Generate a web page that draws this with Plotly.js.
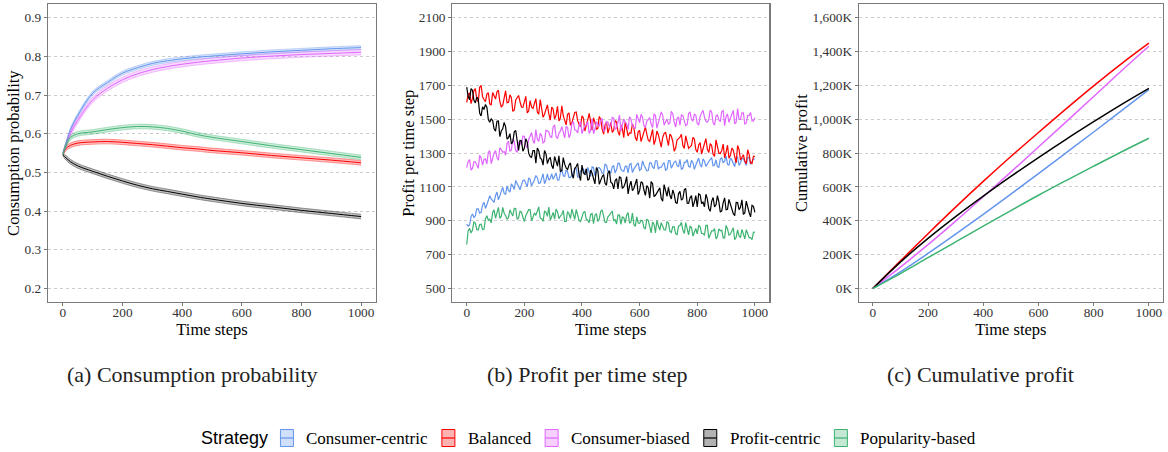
<!DOCTYPE html>
<html><head><meta charset="utf-8">
<script src="https://cdn.plot.ly/plotly-3.0.1.min.js"></script>
<style>html,body{margin:0;padding:0;background:#fff;} #chart{width:1168px;height:452px;}</style>
</head><body><div id="chart"></div>
<script>
// ---------------- DATA ----------------
const strategies = ["Consumer-centric", "Balanced", "Consumer-biased", "Profit-centric", "Popularity-based"];
const colors = ["#6495ED", "#FF0000", "#E066FF", "#000000", "#3CB371"];

// (a) Consumption probability (mean with confidence band)
const timeA = [0,10,25,50,100,150,200,250,300,350,400,450,500,600,700,800,900,1000];
const probConsumerCentric = [0.550,0.575,0.610,0.648,0.705,0.733,0.757,0.771,0.782,0.789,0.794,0.798,0.801,0.807,0.812,0.816,0.820,0.823];
const probConsumerCentricLo = [0.547,0.571,0.605,0.643,0.700,0.728,0.752,0.766,0.777,0.784,0.789,0.793,0.796,0.802,0.807,0.811,0.815,0.818];
const probConsumerCentricHi = [0.553,0.579,0.615,0.653,0.710,0.738,0.762,0.776,0.787,0.794,0.799,0.803,0.806,0.812,0.817,0.821,0.825,0.828];
const probBalanced = [0.546,0.562,0.570,0.576,0.579,0.580,0.578,0.575,0.572,0.568,0.564,0.561,0.557,0.551,0.544,0.538,0.532,0.525];
const probBalancedLo = [0.543,0.556,0.564,0.570,0.573,0.574,0.572,0.569,0.566,0.562,0.558,0.555,0.551,0.545,0.538,0.532,0.526,0.519];
const probBalancedHi = [0.549,0.568,0.576,0.582,0.585,0.586,0.584,0.581,0.578,0.574,0.570,0.567,0.563,0.557,0.550,0.544,0.538,0.531];
const probConsumerBiased = [0.550,0.570,0.600,0.635,0.688,0.718,0.740,0.755,0.766,0.774,0.780,0.785,0.789,0.796,0.801,0.805,0.808,0.811];
const probConsumerBiasedLo = [0.547,0.564,0.593,0.628,0.681,0.711,0.733,0.748,0.759,0.767,0.773,0.778,0.782,0.789,0.794,0.798,0.801,0.804];
const probConsumerBiasedHi = [0.553,0.576,0.607,0.642,0.695,0.725,0.747,0.762,0.773,0.781,0.787,0.792,0.796,0.803,0.808,0.812,0.815,0.818];
const probProfitCentric = [0.545,0.538,0.528,0.517,0.503,0.490,0.478,0.467,0.458,0.451,0.444,0.437,0.431,0.420,0.411,0.402,0.394,0.386];
const probProfitCentricLo = [0.542,0.532,0.522,0.511,0.497,0.484,0.472,0.461,0.452,0.445,0.438,0.431,0.425,0.414,0.405,0.396,0.388,0.380];
const probProfitCentricHi = [0.548,0.544,0.534,0.523,0.509,0.496,0.484,0.473,0.464,0.457,0.450,0.443,0.437,0.426,0.417,0.408,0.400,0.392];
const probPopularity = [0.546,0.570,0.590,0.600,0.605,0.611,0.616,0.619,0.618,0.614,0.607,0.598,0.591,0.580,0.569,0.559,0.549,0.539];
const probPopularityLo = [0.543,0.564,0.584,0.594,0.599,0.605,0.610,0.613,0.612,0.608,0.601,0.592,0.585,0.574,0.563,0.553,0.543,0.533];
const probPopularityHi = [0.549,0.576,0.596,0.606,0.611,0.617,0.622,0.625,0.624,0.620,0.613,0.604,0.597,0.586,0.575,0.565,0.555,0.545];

// (b) Profit per time step: readings at t = 0,10,...,1000 and at t = 5,15,...,995
const timeB = [0,10,20,30,40,50,60,70,80,90,100,110,120,130,140,150,160,170,180,190,200,210,220,230,240,250,260,270,280,290,300,310,320,330,340,350,360,370,380,390,400,410,420,430,440,450,460,470,480,490,500,510,520,530,540,550,560,570,580,590,600,610,620,630,640,650,660,670,680,690,700,710,720,730,740,750,760,770,780,790,800,810,820,830,840,850,860,870,880,890,900,910,920,930,940,950,960,970,980,990,1000];
const timeBMid = [5,15,25,35,45,55,65,75,85,95,105,115,125,135,145,155,165,175,185,195,205,215,225,235,245,255,265,275,285,295,305,315,325,335,345,355,365,375,385,395,405,415,425,435,445,455,465,475,485,495,505,515,525,535,545,555,565,575,585,595,605,615,625,635,645,655,665,675,685,695,705,715,725,735,745,755,765,775,785,795,805,815,825,835,845,855,865,875,885,895,905,915,925,935,945,955,965,975,985,995];

const profitConsumerCentric = [880,875,940,930,970,950,1010,995,1048,1017,1050,1024,1083,1062,1106,1070,1106,1138,1094,1111,1142,1101,1145,1124,1168,1122,1151,1119,1178,1151,1145,1183,1141,1204,1162,1190,1157,1185,1212,1160,1197,1174,1216,1163,1215,1192,1214,1180,1237,1193,1180,1226,1203,1239,1196,1222,1183,1239,1206,1232,1198,1254,1215,1197,1243,1209,1255,1216,1233,1199,1255,1211,1247,1228,1264,1210,1246,1222,1258,1204,1255,1231,1267,1222,1248,1274,1230,1221,1266,1242,1283,1229,1260,1220,1276,1242,1268,1228,1274,1249,1265];
const profitConsumerCentricMid = [868,925,920,970,945,993,973,1027,1030,1009,1070,1049,1098,1057,1081,1118,1085,1116,1083,1139,1114,1153,1107,1141,1155,1124,1178,1141,1140,1178,1167,1140,1183,1166,1199,1156,1169,1211,1159,1196,1208,1175,1187,1219,1166,1213,1205,1181,1228,1194,1221,1182,1239,1205,1192,1223,1234,1185,1222,1243,1204,1230,1196,1243,1219,1255,1206,1217,1244,1205,1256,1227,1253,1219,1205,1246,1262,1218,1244,1230,1271,1217,1252,1238,1264,1225,1261,1216,1272,1253,1234,1270,1240,1276,1227,1268,1248,1274,1234,1265];

const profitBalanced = [1600,1657,1624,1681,1603,1700,1617,1649,1591,1658,1620,1672,1574,1636,1598,1645,1547,1614,1641,1573,1600,1538,1611,1564,1622,1530,1570,1530,1585,1495,1560,1525,1490,1580,1500,1530,1466,1512,1543,1469,1520,1431,1497,1468,1509,1440,1517,1444,1466,1418,1480,1435,1485,1405,1445,1485,1402,1419,1451,1373,1435,1402,1454,1376,1418,1350,1431,1372,1393,1424,1345,1401,1312,1378,1394,1345,1402,1329,1346,1383,1305,1362,1329,1386,1303,1345,1281,1347,1298,1354,1305,1270,1330,1280,1345,1260,1291,1237,1293,1239,1280];
const profitBalancedMid = [1646,1593,1670,1617,1689,1633,1605,1657,1584,1636,1663,1605,1582,1669,1601,1628,1555,1632,1604,1571,1636,1549,1572,1595,1543,1617,1512,1562,1532,1572,1502,1577,1507,1522,1467,1538,1479,1540,1491,1457,1508,1474,1535,1436,1482,1448,1500,1412,1484,1456,1422,1492,1427,1467,1392,1443,1420,1472,1394,1426,1368,1435,1412,1369,1441,1378,1409,1335,1416,1372,1413,1369,1330,1386,1412,1328,1365,1337,1394,1321,1348,1295,1367,1324,1356,1293,1379,1300,1316,1272,1347,1287,1317,1242,1322,1278,1254,1320,1241,1282];

const profitConsumerBiased = [1215,1262,1211,1250,1210,1270,1263,1236,1314,1272,1315,1258,1321,1309,1357,1310,1383,1316,1364,1347,1400,1330,1400,1375,1440,1370,1404,1368,1432,1396,1455,1399,1418,1457,1391,1450,1413,1486,1434,1467,1415,1462,1485,1437,1415,1487,1459,1505,1437,1483,1460,1507,1448,1525,1461,1483,1439,1501,1452,1529,1480,1511,1453,1499,1471,1532,1448,1509,1525,1486,1472,1548,1484,1505,1466,1522,1463,1534,1499,1530,1476,1517,1553,1488,1499,1545,1465,1526,1486,1552,1517,1482,1533,1473,1564,1499,1538,1477,1522,1491,1510];
const profitConsumerBiasedMid = [1251,1199,1248,1227,1287,1229,1267,1305,1238,1301,1274,1332,1305,1288,1371,1319,1367,1305,1368,1401,1347,1382,1422,1357,1382,1417,1361,1435,1424,1393,1467,1386,1430,1414,1458,1391,1474,1437,1420,1488,1441,1468,1416,1503,1441,1468,1494,1431,1487,1454,1511,1442,1484,1430,1502,1473,1515,1461,1448,1499,1530,1462,1488,1510,1451,1522,1483,1544,1465,1501,1477,1533,1454,1515,1526,1492,1468,1544,1489,1525,1466,1537,1513,1483,1554,1480,1520,1496,1546,1462,1532,1507,1553,1483,1499,1538,1472,1522,1541,1490];

const profitProfitCentric = [1690,1615,1672,1597,1620,1520,1558,1572,1483,1493,1430,1490,1431,1482,1383,1415,1367,1434,1316,1373,1330,1365,1280,1315,1240,1315,1263,1315,1238,1275,1208,1246,1284,1197,1235,1203,1242,1152,1221,1171,1230,1175,1140,1200,1150,1215,1116,1161,1122,1182,1128,1089,1150,1161,1092,1123,1059,1135,1091,1147,1078,1124,1050,1096,1132,1043,1069,1095,1016,1077,1098,1029,1056,1002,1074,1030,1091,1003,1049,1011,982,1054,1010,1057,973,1015,982,1049,951,1008,965,1027,974,931,1008,980,938,1016,949,992,950];
const profitProfitCentricMid = [1635,1681,1612,1631,1535,1574,1588,1498,1503,1444,1488,1398,1444,1455,1392,1354,1426,1363,1375,1312,1385,1300,1275,1315,1330,1272,1229,1297,1264,1227,1280,1223,1191,1274,1212,1230,1175,1209,1239,1138,1183,1208,1148,1183,1118,1198,1144,1174,1110,1195,1121,1137,1088,1154,1100,1161,1107,1078,1119,1055,1131,1082,1108,1034,1120,1051,1082,1033,1114,1045,1051,1082,1009,1060,1022,1083,1004,1036,982,1049,1060,1002,983,1030,956,1038,995,1012,959,1036,968,995,942,1009,966,1024,947,975,923,986];

const profitPopularity = [760,855,845,887,846,880,850,930,910,950,915,980,925,945,910,965,929,973,917,951,895,945,966,921,932,982,912,956,926,905,950,969,913,937,896,955,914,938,967,901,920,954,904,938,883,942,911,965,890,924,943,902,881,934,923,887,948,893,879,924,885,901,852,903,829,880,903,845,868,845,888,831,865,818,872,845,889,817,861,834,823,866,825,873,797,840,854,807,841,799,873,816,840,788,847,800,823,847,800,789,832];
const profitPopularityMid = [840,828,894,849,878,848,913,903,888,965,955,915,980,930,920,945,974,908,957,921,930,966,901,947,962,917,897,951,981,925,910,954,928,962,896,940,969,908,932,896,950,909,889,943,933,897,956,915,890,934,958,907,935,879,918,935,886,946,867,887,903,859,910,866,892,829,872,889,847,894,837,866,824,868,891,825,843,867,810,854,872,826,814,873,826,840,793,852,845,799,852,821,859,803,811,849,793,826,800,833];

// (c) Cumulative profit (thousands)
const timeC = [0,100,200,300,400,500,600,700,800,900,1000];
const cumConsumerCentric = [0,98,207,321,438,558,679,802,925,1050,1175];
const cumBalanced = [0,163,324,481,633,780,922,1062,1198,1328,1450];
const cumConsumerBiased = [0,126,259,398,542,688,836,985,1135,1286,1432];
const cumProfitCentric = [0,156,296,425,546,662,774,882,986,1087,1183];
const cumPopularity = [0,88,182,275,368,460,551,638,723,807,888];

const xTickVals = [0,200,400,600,800,1000];
const yTicksA = [0.2,0.3,0.4,0.5,0.6,0.7,0.8,0.9];
const yTicksB = [500,700,900,1100,1300,1500,1700,1900,2100];
const yTicksC = [0,200,400,600,800,1000,1200,1400,1600];
const yTickTextC = ["0K","200K","400K","600K","800K","1,000K","1,200K","1,400K","1,600K"];
const captions = ["(a) Consumption probability", "(b) Profit per time step", "(c) Cumulative profit"];
const legendTitle = "Strategy";

// ---------------- BUILD ----------------
const W = 1168, H = 452;
const SERIF = "Liberation Serif, Times New Roman, serif";
const SANS = "Liberation Sans, Arial, sans-serif";
function rgba(hex, a) {
  const n = parseInt(hex.slice(1), 16);
  return `rgba(${(n >> 16) & 255},${(n >> 8) & 255},${n & 255},${a})`;
}
// merge the two reading grids of panel (b) in time order
function mergeByTime(tA, vA, tB, vB) {
  const pts = tA.map((t, i) => [t, vA[i]]).concat(tB.map((t, i) => [t, vB[i]]));
  pts.sort((p, q) => p[0] - q[0]);
  return {x: pts.map(p => p[0]), y: pts.map(p => p[1])};
}

const probMean = [probConsumerCentric, probBalanced, probConsumerBiased, probProfitCentric, probPopularity];
const probLo = [probConsumerCentricLo, probBalancedLo, probConsumerBiasedLo, probProfitCentricLo, probPopularityLo];
const probHi = [probConsumerCentricHi, probBalancedHi, probConsumerBiasedHi, probProfitCentricHi, probPopularityHi];
const profit = [profitConsumerCentric, profitBalanced, profitConsumerBiased, profitProfitCentric, profitPopularity];
const profitMid = [profitConsumerCentricMid, profitBalancedMid, profitConsumerBiasedMid, profitProfitCentricMid, profitPopularityMid];
const cum = [cumConsumerCentric, cumBalanced, cumConsumerBiased, cumProfitCentric, cumPopularity];

const traces = [];
strategies.forEach((name, i) => {
  const c = colors[i];
  traces.push({x: timeA, y: probLo[i], xaxis: 'x', yaxis: 'y', mode: 'lines', line: {color: rgba(c, 0.45), width: 0.8, shape: 'spline'}, showlegend: false, hoverinfo: 'skip'});
  traces.push({x: timeA, y: probHi[i], xaxis: 'x', yaxis: 'y', mode: 'lines', fill: 'tonexty', fillcolor: rgba(c, 0.25), line: {color: rgba(c, 0.45), width: 0.8, shape: 'spline'}, showlegend: false, hoverinfo: 'skip'});
  traces.push({x: timeA, y: probMean[i], xaxis: 'x', yaxis: 'y', mode: 'lines', name: name, line: {color: c, width: 1, shape: 'spline'}, showlegend: false});
});
strategies.forEach((name, i) => {
  const m = mergeByTime(timeB, profit[i], timeBMid, profitMid[i]);
  traces.push({x: m.x, y: m.y, xaxis: 'x2', yaxis: 'y2', mode: 'lines', name: name, line: {color: colors[i], width: 1.2}, showlegend: false});
});
strategies.forEach((name, i) => {
  traces.push({x: timeC, y: cum[i], xaxis: 'x3', yaxis: 'y3', mode: 'lines', name: name, line: {color: colors[i], width: 1.5, shape: 'spline'}, showlegend: false});
});

const axBase = {
  showline: true, mirror: true, linecolor: '#7a7a7a', linewidth: 1.2,
  ticks: 'outside', ticklen: 3, tickwidth: 1, tickcolor: '#7a7a7a',
  tickfont: {family: SERIF, size: 13.3, color: '#333'},
  zeroline: false, automargin: false, fixedrange: true
};
const titleFont = {family: SERIF, size: 16.5, color: '#000', weight: 'normal'};
function xAx(dom) {
  return Object.assign({}, axBase, {domain: dom, range: [-50, 1050], showgrid: false, tickmode: 'array', tickvals: xTickVals,
    ticklabelstandoff: -5,
    title: {text: 'Time steps', font: titleFont, standoff: 0}});
}
function yAx(dom, anchor, range, title, extra) {
  return Object.assign({}, axBase, {domain: dom, anchor: anchor, range: range, showgrid: true, gridcolor: '#cccccc', gridwidth: 1, griddash: '3px,3px',
    title: {text: title, font: titleFont, standoff: 0}}, extra);
}
const yDom = [1 - 302 / H, 1 - 4.3 / H];

const layout = {
  width: W, height: H, autosize: false,
  margin: {l: 0, r: 0, t: 0, b: 0},
  paper_bgcolor: '#fff', plot_bgcolor: '#fff',
  showlegend: false,
  xaxis: Object.assign(xAx([48 / W, 376 / W]), {anchor: 'y'}),
  yaxis: yAx(yDom, 'x', [0.165, 0.935], 'Consumption probability', {tickmode: 'array', tickvals: yTicksA, ticktext: yTicksA.map(v => v.toFixed(1))}),
  xaxis2: Object.assign(xAx([452.3 / W, 769.3 / W]), {anchor: 'y2'}),
  yaxis2: yAx(yDom, 'x2', [420, 2180], 'Profit per time step', {tickmode: 'array', tickvals: yTicksB, ticktext: yTicksB.map(String)}),
  xaxis3: Object.assign(xAx([859 / W, 1162.7 / W]), {anchor: 'y3'}),
  yaxis3: yAx(yDom, 'x3', [-80, 1680], 'Cumulative profit', {tickmode: 'array', tickvals: yTicksC, ticktext: yTickTextC}),
  annotations: [], shapes: []
};

// captions
const capX = [192, 587, 980];
captions.forEach((t, i) => {
  layout.annotations.push({text: t, xref: 'paper', yref: 'paper', x: capX[i] / W, y: 1 - 374 / H, xanchor: 'center', yanchor: 'middle',
    showarrow: false, font: {family: SERIF, size: 22, color: '#222'}});
});

// legend (ggplot-style keys)
const ctx = document.createElement('canvas').getContext('2d');
function tw(text, font) { ctx.font = font; return ctx.measureText(text).width; }
const titleSize = 18, labelSize = 17;
const keyW = 13, keyH = 17, gapTitle = 13, gapKey = 12, gapItem = 15, legY = 438;
const wTitle = tw(legendTitle, `${titleSize}px ${SANS}`);
const wLabels = strategies.map(s => tw(s, `${labelSize}px ${SERIF}`));
let total = wTitle + gapTitle;
wLabels.forEach((w, i) => { total += keyW + gapKey + w + (i < wLabels.length - 1 ? gapItem : 0); });
let cx = 587.5 - total / 2;
layout.annotations.push({text: legendTitle, xref: 'paper', yref: 'paper', x: cx / W, y: 1 - legY / H, xanchor: 'left', yanchor: 'middle',
  showarrow: false, borderpad: 0, font: {family: SANS, size: titleSize, color: '#000'}});
cx += wTitle + gapTitle;
strategies.forEach((s, i) => {
  const c = colors[i];
  layout.shapes.push({type: 'rect', xref: 'paper', yref: 'paper', x0: cx / W, x1: (cx + keyW) / W, y0: 1 - (legY + keyH / 2) / H, y1: 1 - (legY - keyH / 2) / H,
    fillcolor: rgba(c, 0.3), line: {color: c, width: 1}});
  layout.shapes.push({type: 'line', xref: 'paper', yref: 'paper', x0: cx / W, x1: (cx + keyW) / W, y0: 1 - legY / H, y1: 1 - legY / H,
    line: {color: c, width: 1.2}});
  cx += keyW + gapKey;
  layout.annotations.push({text: s, xref: 'paper', yref: 'paper', x: cx / W, y: 1 - legY / H, xanchor: 'left', yanchor: 'middle',
    showarrow: false, borderpad: 0, font: {family: SERIF, size: labelSize, color: '#000'}});
  cx += wLabels[i] + gapItem;
});

Plotly.newPlot('chart', traces, layout, {displayModeBar: false, staticPlot: true});
</script>
</body></html>
